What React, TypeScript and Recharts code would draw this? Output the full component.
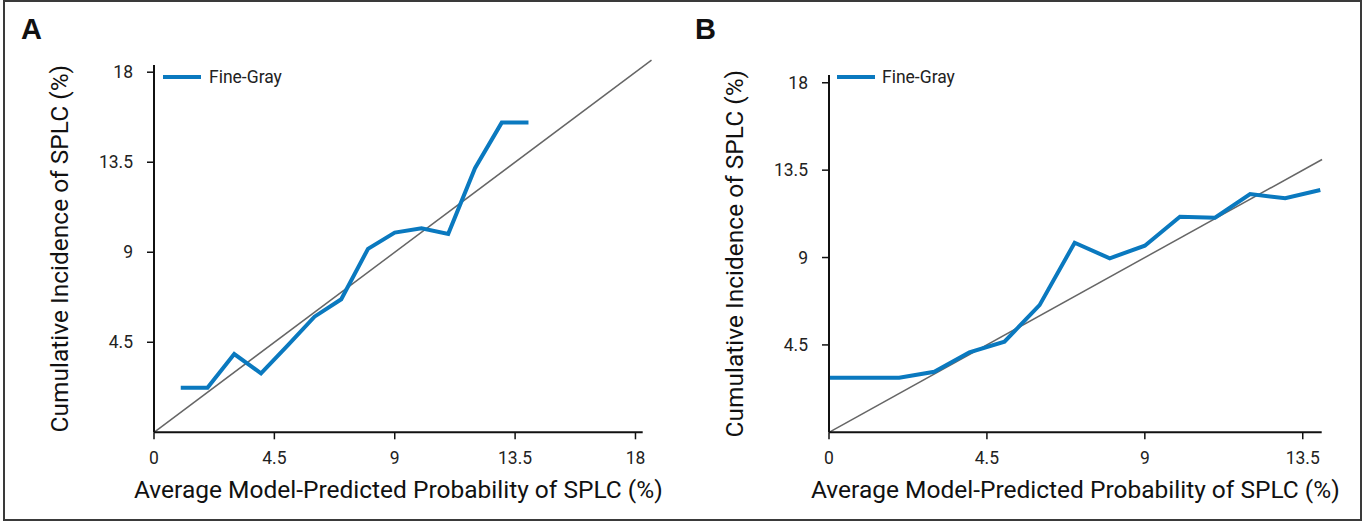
import React from 'react';
import { LineChart, Line, XAxis, YAxis, ReferenceLine, Legend } from 'recharts';

const seriesName = 'Fine-Gray';
const xTitle = 'Average Model-Predicted Probability of SPLC (%)';
const yTitle = 'Cumulative Incidence of SPLC (%)';

const panelAX = [1, 2, 3, 4, 5, 6, 7, 8, 9, 10, 11, 12, 13, 14];
const panelAY = [2.23, 2.23, 3.91, 2.95, 4.35, 5.78, 6.65, 9.17, 9.98, 10.2, 9.92, 13.2, 15.48, 15.48];
const panelAXTicks = [0, 4.5, 9, 13.5, 18];
const panelAYTicks = [4.5, 9, 13.5, 18];
const panelAXDomain = [0, 18.27];
const panelAYDomain = [0, 18.36];
const panelADiagonalEnd = 18.6;

const panelBX = [0, 1, 2, 3, 4, 5, 6, 7, 8, 9, 10, 11, 12, 13, 14];
const panelBY = [2.81, 2.81, 2.81, 3.12, 4.12, 4.67, 6.55, 9.76, 8.96, 9.61, 11.1, 11.05, 12.27, 12.05, 12.48];
const panelBXTicks = [0, 4.5, 9, 13.5];
const panelBYTicks = [4.5, 9, 13.5, 18];
const panelBXDomain = [0, 14.04];
const panelBYDomain = [0, 18.4];
const panelBDiagonalEnd = 14.05;

const BLUE = '#0a79bf';
const FONT = 'Roboto, "Liberation Sans", Arial, sans-serif';

const makeData = (xs: number[], ys: number[]) => xs.map((x, i) => ({ x, y: ys[i] }));

const LegendContent = (props: any) => {
  const item = (props.payload && props.payload[0]) || { color: BLUE, value: seriesName };
  return (
    <div style={{ display: 'flex', alignItems: 'center', height: 20, fontFamily: FONT, fontSize: 17.5, color: '#222', whiteSpace: 'nowrap' }}>
      <svg width={38} height={20} style={{ display: 'block' }}>
        <line x1={0} y1={10} x2={38} y2={10} stroke={item.color} strokeWidth={4} />
      </svg>
      <span style={{ marginLeft: props.gap, lineHeight: '20px' }}>{item.value}</span>
    </div>
  );
};

const YTitle = (props: any) => {
  const vb = props.viewBox || { x: 0, y: 0, width: 0, height: 0 };
  const cx = vb.x + vb.width - 86;
  const cy = vb.y + vb.height / 2;
  return (
    <text x={cx} y={cy} transform={`rotate(-90 ${cx} ${cy})`} textAnchor="middle" fontFamily={FONT} fontSize={24.5} fill="#111">
      {yTitle}
    </text>
  );
};

const XTitle = (props: any) => {
  const vb = props.viewBox || { x: 0, y: 0, width: 0, height: 0 };
  return (
    <text x={vb.x + vb.width / 2} y={vb.y + 66} textAnchor="middle" fontFamily={FONT} fontSize={24.5} fill="#111">
      {xTitle}
    </text>
  );
};

type PanelProps = {
  width: number;
  data: { x: number; y: number }[];
  margin: { top: number; right: number; bottom: number; left: number };
  xDomain: number[];
  yDomain: number[];
  xTicks: number[];
  yTicks: number[];
  diag: number;
  legendLeft: number;
  legendGap: number;
};

const Panel = (p: PanelProps) => (
  <LineChart width={p.width} height={523} data={p.data} margin={p.margin}>
    <XAxis
      dataKey="x"
      type="number"
      domain={p.xDomain as any}
      ticks={p.xTicks}
      interval={0}
      height={70}
      tickSize={7}
      tickMargin={12}
      axisLine={{ stroke: '#111', strokeWidth: 2 }}
      tickLine={{ stroke: '#111', strokeWidth: 1.5 }}
      tick={{ fill: '#222', fontSize: 17.5, fontFamily: FONT }}
      allowDataOverflow
      label={{ content: XTitle } as any}
    />
    <YAxis
      type="number"
      domain={p.yDomain as any}
      ticks={p.yTicks}
      interval={0}
      width={100}
      tickSize={7}
      tickMargin={14}
      axisLine={{ stroke: '#111', strokeWidth: 2 }}
      tickLine={{ stroke: '#111', strokeWidth: 1.5 }}
      tick={{ fill: '#222', fontSize: 17.5, fontFamily: FONT }}
      allowDataOverflow
      label={{ content: YTitle } as any}
    />
    <ReferenceLine
      segment={[{ x: 0, y: 0 }, { x: p.diag, y: p.diag }]}
      stroke="#666"
      strokeWidth={1.5}
      ifOverflow="visible"
    />
    <Legend
      layout="vertical"
      verticalAlign="middle"
      align="center"
      content={(props: any) => <LegendContent {...props} gap={p.legendGap} />}
      wrapperStyle={{ left: p.legendLeft, top: 67, width: 'auto' }}
    />
    <Line
      type="linear"
      dataKey="y"
      name={seriesName}
      stroke={BLUE}
      strokeWidth={4}
      dot={false}
      activeDot={false}
      isAnimationActive={false}
      strokeLinejoin="miter"
    />
  </LineChart>
);

export default function App() {
  const dataA = makeData(panelAX, panelAY);
  const dataB = makeData(panelBX, panelBY);
  return (
    <div style={{ position: 'absolute', left: 0, top: 0, width: 1368, height: 523, background: '#fff', overflow: 'hidden' }}>
      <div style={{ position: 'absolute', left: 0, top: 0 }}>
        <Panel
          width={680}
          data={dataA}
          margin={{ top: 65, right: 37.3, bottom: 20.7, left: 54 }}
          xDomain={panelAXDomain}
          yDomain={panelAYDomain}
          xTicks={panelAXTicks}
          yTicks={panelAYTicks}
          diag={panelADiagonalEnd}
          legendLeft={163}
          legendGap={8}
        />
      </div>
      <div style={{ position: 'absolute', left: 680, top: 0 }}>
        <Panel
          width={688}
          data={dataB}
          margin={{ top: 75, right: 46.3, bottom: 20.7, left: 49 }}
          xDomain={panelBXDomain}
          yDomain={panelBYDomain}
          xTicks={panelBXTicks}
          yTicks={panelBYTicks}
          diag={panelBDiagonalEnd}
          legendLeft={157}
          legendGap={7}
        />
      </div>
      <svg width={1368} height={523} style={{ position: 'absolute', left: 0, top: 0, pointerEvents: 'none' }}>
        <text x={21} y={39} fontFamily='"Liberation Sans", Arial, sans-serif' fontWeight="bold" fontSize={29} fill="#111">A</text>
        <text x={695} y={39} fontFamily='"Liberation Sans", Arial, sans-serif' fontWeight="bold" fontSize={29} fill="#111">B</text>
      </svg>
      <div style={{ position: 'absolute', left: 3, top: 0, width: 1359, height: 521, border: '2px solid #3a3a3a', boxSizing: 'border-box', pointerEvents: 'none' }} />
    </div>
  );
}
